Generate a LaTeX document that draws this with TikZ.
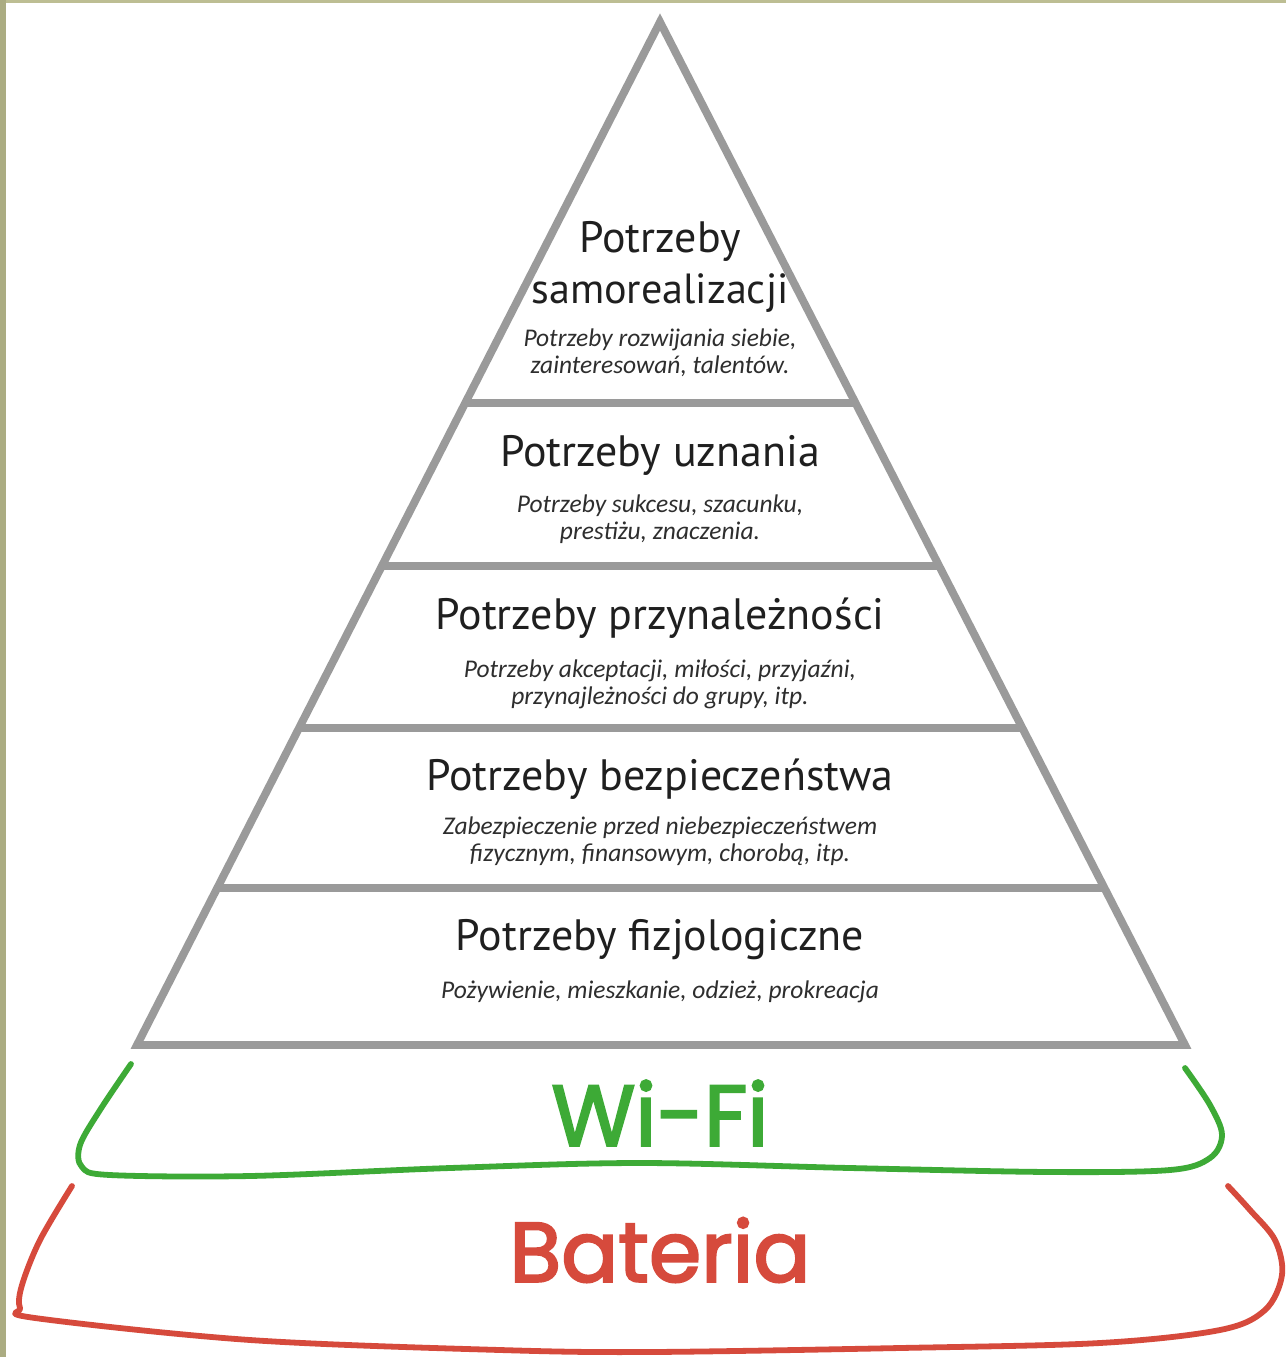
\documentclass[tikz,border=0pt]{standalone}
\usepackage{fontspec}
\usetikzlibrary{calc}
\setmainfont{Carlito}
\newfontfamily\titlefont{PT Sans}
\newfontfamily\handfont[FakeBold=2.5]{Poppins}
\definecolor{pyrgray}{HTML}{9A9A9A}
\definecolor{wifigreen}{HTML}{3DAA36}
\definecolor{batred}{HTML}{D64A3C}
\definecolor{olivel}{HTML}{ABAC82}
\definecolor{olivet}{HTML}{BDBE93}
\begin{document}
\begin{tikzpicture}[x=0.02cm,y=-0.02cm,
  pyr/.style={draw=pyrgray,line width=4.5pt},
  ttl/.style={font=\titlefont\fontsize{25}{27}\selectfont,text=black!88,inner sep=0pt},
  sub/.style={font=\fontsize{14.5}{15.5}\selectfont\itshape,text=black!82,align=center,inner sep=0pt},
  hand/.style={line width=3.3pt,line cap=round,line join=round}]
\useasboundingbox (0,0) rectangle (1286,1357);
\fill[white] (0,0) rectangle (1286,1357);
\fill[olivet] (0,0) rectangle (1286,3);
\fill[olivel] (0,0) rectangle (6,1357);
% pyramid
\coordinate (apex) at (660,22);
\coordinate (bl) at (137,1045);
\coordinate (br) at (1185,1045);
\draw[pyr,line join=miter] (apex) -- (br) -- (bl) -- cycle;
\foreach \yy in {403,566,728,888}{
  \pgfmathsetmacro{\fr}{(\yy-22)/1023}
  \draw[pyr] ($(apex)!\fr!(bl)$) -- ($(apex)!\fr!(br)$);
}
% texts
\node[ttl] (t1a) at (660,241) {Potrzeby};
\node[ttl,font=\titlefont\fontsize{24}{27}\selectfont] (t1b) at (660,293) {samorealizacji};
\node[sub] (s1) at (660,353) {Potrzeby rozwijania siebie,\\zainteresowań, talentów.};
\node[ttl] (t2) at (660,455) {Potrzeby uznania};
\node[sub] (s2) at (660,519) {Potrzeby sukcesu, szacunku,\\prestiżu, znaczenia.};
\node[ttl] (t3) at (660,618) {Potrzeby przynależności};
\node[sub] (s3) at (660,684) {Potrzeby akceptacji, miłości, przyjaźni,\\przynajleżności do grupy, itp.};
\node[ttl] (t4) at (660,779) {Potrzeby bezpieczeństwa};
\node[sub] (s4) at (660,841) {Zabezpieczenie przed niebezpieczeństwem\\fizycznym, finansowym, chorobą, itp.};
\node[ttl] (t5) at (660,940) {Potrzeby fizjologiczne};
\node[sub] (s5) at (660,992) {Pożywienie, mieszkanie, odzież, prokreacja};
% wifi
\draw[hand,wifigreen] plot[smooth,tension=0.55] coordinates {(131,1064) (100,1110) (80,1145) (82,1167) (110,1175) (250,1176) (450,1168) (640,1163) (850,1168) (1050,1172) (1170,1170) (1210,1158) (1222,1135) (1210,1105) (1185,1068)};
\node[font=\handfont\fontsize{49}{50}\selectfont,text=wifigreen,inner sep=0pt] (wifi) at (660,1113) {Wi-Fi};
% battery
\draw[hand,batred] plot[smooth,tension=0.55] coordinates {(72,1186) (40,1240) (22,1285) (20,1308) (35,1318) (250,1340) (500,1350) (650,1352) (900,1348) (1100,1343) (1220,1330) (1265,1310) (1282,1275) (1275,1240) (1250,1210) (1228,1186)};
\node[font=\handfont\fontsize{48}{50}\selectfont,text=batred,inner sep=0pt] (bat) at (660,1250) {Bateria};
\end{tikzpicture}
\end{document}
